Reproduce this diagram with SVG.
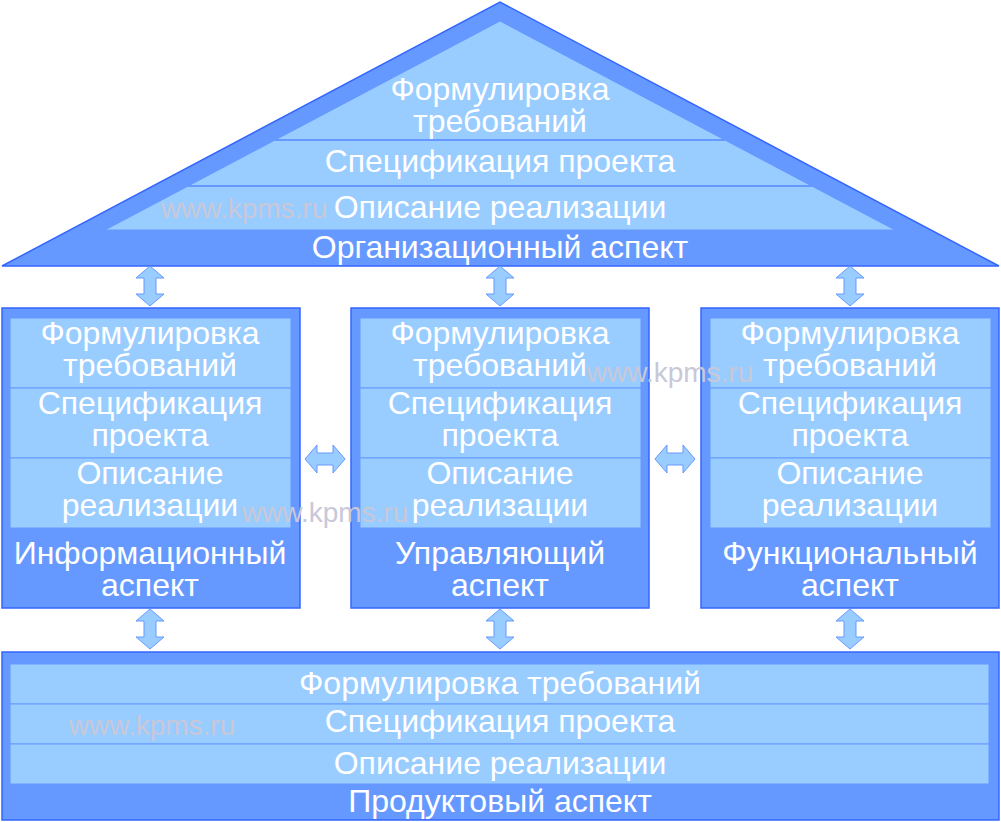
<svg xmlns="http://www.w3.org/2000/svg" width="1001" height="822" viewBox="0 0 1001 822">
<style>
.d{fill:#6699FF;stroke:#3366FF;stroke-width:1.5}
.l{fill:#99CCFF;stroke:#6699FF;stroke-width:1}
.t{font-family:"Liberation Sans",Arial,sans-serif;font-size:32px;fill:#fff;text-anchor:middle}
.w{font-family:"Liberation Sans",Arial,sans-serif;font-size:28px;fill:#C8C8D8;text-anchor:middle}
.a{fill:#99CCFF;stroke:#6699FF;stroke-width:1}
</style>
<defs>
<path id="va" d="M0,-20 L14,-8 L6,-8 L6,8 L14,8 L0,20 L-14,8 L-6,8 L-6,-8 L-14,-8 Z" class="a"/>
<path id="ha" d="M-20,0 L-8,-14 L-8,-6 L8,-6 L8,-14 L20,0 L8,14 L8,6 L-8,6 L-8,14 Z" class="a"/>
</defs>
<g id="org">
<polygon class="d" points="2,266 500,2 999,266"/>
<polygon class="l" points="105,230 500,21 895,230"/>
<line x1="275" y1="140" x2="725" y2="140" stroke="#6699FF" stroke-width="2"/>
<line x1="187" y1="186" x2="813" y2="186" stroke="#6699FF" stroke-width="2"/>
<text class="t" x="500" y="100">Формулировка</text>
<text class="t" x="500" y="132">требований</text>
<text class="t" x="500" y="172">Спецификация проекта</text>
<text class="w" x="244" y="218">www.kpms.ru</text>
<text class="t" x="500" y="218">Описание реализации</text>
<text class="t" x="500" y="258">Организационный аспект</text>
</g>
<g id="info">
<rect class="d" x="2" y="308" width="298" height="300"/>
<rect class="l" x="10" y="318" width="281" height="70"/>
<rect class="l" x="10" y="388" width="281" height="70"/>
<rect class="l" x="10" y="458" width="281" height="70"/>
<text class="t" x="150" y="344">Формулировка</text><text class="t" x="150" y="376">требований</text>
<text class="t" x="150" y="414">Спецификация</text><text class="t" x="150" y="446">проекта</text>
<text class="t" x="150" y="484">Описание</text><text class="t" x="150" y="516">реализации</text>
<text class="t" x="150" y="564">Информационный</text><text class="t" x="150" y="596">аспект</text>
</g>
<g id="ctrl">
<rect class="d" x="351" y="308" width="298" height="300"/>
<rect class="l" x="360" y="318" width="281" height="70"/>
<rect class="l" x="360" y="388" width="281" height="70"/>
<rect class="l" x="360" y="458" width="281" height="70"/>
<text class="t" x="500" y="344">Формулировка</text><text class="t" x="500" y="376">требований</text>
<text class="t" x="500" y="414">Спецификация</text><text class="t" x="500" y="446">проекта</text>
<text class="t" x="500" y="484">Описание</text><text class="t" x="500" y="516">реализации</text>
<text class="t" x="500" y="564">Управляющий</text><text class="t" x="500" y="596">аспект</text>
</g>
<g id="func">
<rect class="d" x="701" y="308" width="298" height="300"/>
<rect class="l" x="710" y="318" width="281" height="70"/>
<rect class="l" x="710" y="388" width="281" height="70"/>
<rect class="l" x="710" y="458" width="281" height="70"/>
<text class="t" x="850" y="344">Формулировка</text><text class="t" x="850" y="376">требований</text>
<text class="t" x="850" y="414">Спецификация</text><text class="t" x="850" y="446">проекта</text>
<text class="t" x="850" y="484">Описание</text><text class="t" x="850" y="516">реализации</text>
<text class="t" x="850" y="564">Функциональный</text><text class="t" x="850" y="596">аспект</text>
</g>
<g id="prod">
<rect class="d" x="2" y="652" width="997" height="168"/>
<rect class="l" x="10" y="664" width="979" height="40"/>
<rect class="l" x="10" y="704" width="979" height="40"/>
<rect class="l" x="10" y="744" width="979" height="40"/>
<text class="t" x="500" y="694">Формулировка требований</text>
<text class="t" x="500" y="732">Спецификация проекта</text>
<text class="t" x="500" y="774">Описание реализации</text>
<text class="t" x="500" y="812">Продуктовый аспект</text>
</g>
<text class="w" x="670" y="382">www.kpms.ru</text>
<text class="w" x="325" y="522">www.kpms.ru</text>
<text class="w" x="152" y="735">www.kpms.ru</text>
<g id="connectors">
<use href="#va" x="150" y="286"/>
<use href="#va" x="500" y="286"/>
<use href="#va" x="850" y="286"/>
<use href="#va" x="150" y="629"/>
<use href="#va" x="500" y="629"/>
<use href="#va" x="850" y="629"/>
<use href="#ha" x="325" y="459"/>
<use href="#ha" x="675" y="459"/>
</g>
</svg>
